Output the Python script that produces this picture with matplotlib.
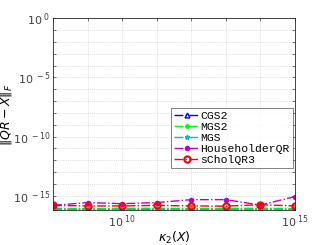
import matplotlib
matplotlib.use("Agg")
import matplotlib.pyplot as plt
import numpy as np
from matplotlib.ticker import FixedLocator, FuncFormatter

# condition numbers (10^8 ... 10^15)
kappa = [1e8, 1e9, 1e10, 1e11, 1e12, 1e13, 1e14, 1e15]

cgs2 = [7.0e-17, 7.0e-17, 7.2e-17, 7.0e-17, 7.0e-17, 7.2e-17, 7.0e-17, 7.0e-17]
mgs2 = [8.3e-17, 8.0e-17, 8.3e-17, 8.5e-17, 8.0e-17, 8.3e-17, 8.5e-17, 8.0e-17]
mgs = [7.2e-17, 6.8e-17, 7.0e-17, 7.2e-17, 6.8e-17, 6.8e-17, 7.0e-17, 6.9e-17]
house = [1.5e-16, 2.6e-16, 2.1e-16, 2.6e-16, 4.6e-16, 4.6e-16, 1.6e-16, 8.3e-16]
schol = [1.5e-16, 1.35e-16, 1.35e-16, 1.5e-16, 1.35e-16, 1.3e-16, 1.7e-16, 1.35e-16]

fig = plt.figure(figsize=(3.27, 2.45), dpi=100)
ax = fig.add_axes([0.162, 0.141, 0.740, 0.784])

ax.loglog(kappa, cgs2, '-.^', color='b', ms=3.5, mfc='none', lw=1, label='CGS2')
ax.loglog(kappa, mgs2, '-.', color='#00ff00', marker='.', ms=5, lw=1, label='MGS2')
ax.loglog(kappa, mgs, '-.', color='c', marker='*', ms=3.5, lw=1, label='MGS')
ax.loglog(kappa, house, '-.', color='m', marker='.', ms=6, lw=1, label='HouseholderQR')
ax.loglog(kappa, schol, '-.o', color='r', ms=4.5, mfc='none', mew=1.5, lw=1, label='sCholQR3')

ax.set_xlim(1e8, 1e15)
ax.set_ylim(5.6e-17, 1)

ax.xaxis.set_major_locator(FixedLocator([10.0**k for k in range(8, 16)]))
ax.yaxis.set_major_locator(FixedLocator([10.0**k for k in range(-16, 1)]))
ax.xaxis.set_minor_locator(FixedLocator([]))
ax.yaxis.set_minor_locator(FixedLocator([]))

def fmt(v, pos, step=5):
    e = int(round(np.log10(v)))
    if e % step != 0:
        return ''
    return r'$\mathregular{10^{\ %d}}$' % e

ax.xaxis.set_major_formatter(FuncFormatter(fmt))
ax.yaxis.set_major_formatter(FuncFormatter(fmt))

ax.tick_params(which='both', direction='in', top=True, right=True,
               labelsize=8, colors='#404040', length=2.5, width=0.5, pad=2)
for s in ax.spines.values():
    s.set_color('#262626')
    s.set_linewidth(0.6)

ax.grid(True, which='major', ls=':', color='#c8c8c8', lw=0.5)

ax.set_xlabel(r'$\kappa_2(X)$', fontsize=9, labelpad=0)
ax.set_ylabel(r'$\|\hat{Q}\hat{R}-X\|_F$', fontsize=9)
ax.yaxis.set_label_coords(-0.158, 0.5)

leg = ax.legend(loc='upper right', bbox_to_anchor=(0.99, 0.533),
                prop={'family': 'Liberation Mono', 'size': 8.2},
                frameon=True, fancybox=False, borderpad=0.25, labelspacing=0.1,
                handlelength=2.2, handletextpad=0.1, borderaxespad=0)
leg.get_frame().set_edgecolor('#262626')
leg.get_frame().set_linewidth(0.5)

fig.savefig('out.png', dpi=100)
